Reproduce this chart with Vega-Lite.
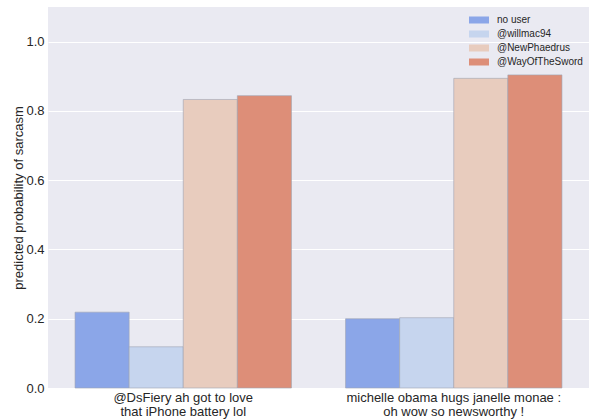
{
  "$schema": "https://vega.github.io/schema/vega-lite/v6.json",
  "width": 541,
  "height": 381,
  "autosize": {"type": "none"},
  "padding": {"left": 48, "top": 7, "right": 0, "bottom": 31},
  "background": "white",
  "config": {
    "view": {"fill": "#EAEAF2", "stroke": null},
    "font": "Liberation Sans",
    "axis": {"labelColor": "#262626", "titleColor": "#262626", "labelFont": "Liberation Sans", "titleFont": "Liberation Sans"}
  },
  "data": {
    "values": [
      {"text": "@DsFiery ah got to love|that iPhone battery lol", "user": "no user", "p": 0.219},
      {"text": "@DsFiery ah got to love|that iPhone battery lol", "user": "@willmac94", "p": 0.119},
      {"text": "@DsFiery ah got to love|that iPhone battery lol", "user": "@NewPhaedrus", "p": 0.833},
      {"text": "@DsFiery ah got to love|that iPhone battery lol", "user": "@WayOfTheSword", "p": 0.844},
      {"text": "michelle obama hugs janelle monae :|oh wow so newsworthy !", "user": "no user", "p": 0.200},
      {"text": "michelle obama hugs janelle monae :|oh wow so newsworthy !", "user": "@willmac94", "p": 0.203},
      {"text": "michelle obama hugs janelle monae :|oh wow so newsworthy !", "user": "@NewPhaedrus", "p": 0.894},
      {"text": "michelle obama hugs janelle monae :|oh wow so newsworthy !", "user": "@WayOfTheSword", "p": 0.904}
    ]
  },
  "mark": {"type": "bar", "stroke": "#9fa3b3", "strokeOpacity": 0.6, "strokeWidth": 1},
  "encoding": {
    "x": {
      "field": "text", "type": "nominal", "sort": null,
      "scale": {"paddingInner": 0.2, "paddingOuter": 0.1},
      "axis": {
        "title": null, "labelAngle": 0, "ticks": false, "domain": false, "labelLimit": 400,
        "labelExpr": "split(datum.label, '|')", "labelFontSize": 13, "labelPadding": 3,
        "labelLineHeight": 14, "labelBaseline": "top"
      }
    },
    "xOffset": {"field": "user", "type": "nominal", "sort": ["no user", "@willmac94", "@NewPhaedrus", "@WayOfTheSword"]},
    "y": {
      "field": "p", "type": "quantitative",
      "scale": {"domain": [0, 1.1], "nice": false},
      "axis": {
        "title": "predicted probability of sarcasm", "titleFontSize": 13, "titleFontWeight": "normal", "titlePadding": 0,
        "values": [0, 0.2, 0.4, 0.6, 0.8, 1.0], "format": ".1f", "labelFontSize": 13, "labelPadding": 4,
        "ticks": false, "domain": false, "grid": true, "gridColor": "white", "gridWidth": 1
      }
    },
    "color": {
      "field": "user", "type": "nominal",
      "sort": ["no user", "@willmac94", "@NewPhaedrus", "@WayOfTheSword"],
      "scale": {"domain": ["no user", "@willmac94", "@NewPhaedrus", "@WayOfTheSword"], "range": ["#8BA6E8", "#C6D5EE", "#E8CCBE", "#DD8E78"]},
      "legend": {
        "title": null, "orient": "none", "legendX": 426, "legendY": 8,
        "symbolType": "M-2,-0.7h4v1.4h-4z", "symbolSize": 100, "symbolStrokeWidth": 0,
        "labelFontSize": 10, "labelColor": "#262626", "labelOffset": 13, "rowPadding": 4, "padding": 0
      }
    }
  }
}
